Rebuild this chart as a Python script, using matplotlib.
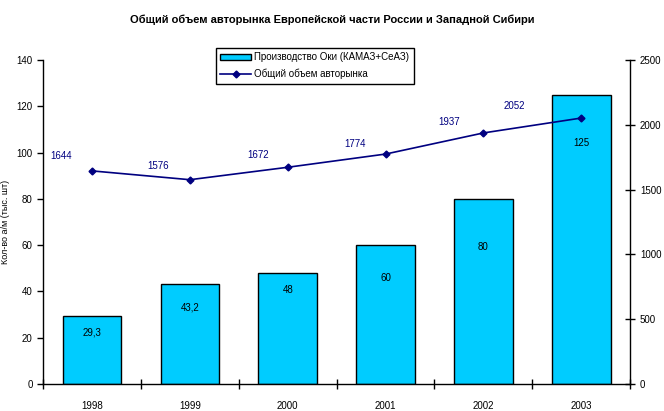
import matplotlib.pyplot as plt
from matplotlib.patches import Patch
from matplotlib.lines import Line2D

plt.rcParams['font.family'] = ['Liberation Sans', 'DejaVu Sans']

# data
years = ['1998', '1999', '2000', '2001', '2002', '2003']
oka_prod = [29.3, 43.2, 48, 60, 80, 125]
oka_labels = ['29,3', '43,2', '48', '60', '80', '125']
market_total = [1644, 1576, 1672, 1774, 1937, 2052]

# label placement offsets (points)
bar_lbl_off = [-12, -17, -12, -24, -35, -35]
line_lbl_off = [(-22, 11), (-23, 10), (-21, 9), (-22, 7), (-25, 8), (-48, 9)]

fig = plt.figure(figsize=(6.64, 4.11), dpi=100)
ax = fig.add_axes([0.065, 0.066, 0.884, 0.788])
ax2 = ax.twinx()

x = range(len(years))
bars = ax.bar(x, oka_prod, width=0.6, color='#00CCFF', edgecolor='black', linewidth=1.0, zorder=2)
for xi, v, lbl, off in zip(x, oka_prod, oka_labels, bar_lbl_off):
    ax.annotate(lbl, (xi, v), xytext=(0, off), textcoords='offset points',
                ha='center', va='center', fontsize=7)

ax2.plot(x, market_total, color='#000080', linewidth=1.2, marker='D', markersize=3.5, zorder=3)
for xi, v, off in zip(x, market_total, line_lbl_off):
    ax2.annotate(str(v), (xi, v), xytext=off, textcoords='offset points',
                 ha='center', va='center', fontsize=7, color='#000080')

ax.set_xlim(-0.5, 5.5)
ax.set_ylim(0, 140)
ax.set_yticks(range(0, 141, 20))
ax2.set_ylim(0, 2500)
ax2.set_yticks(range(0, 2501, 500))

ax.set_xticks(list(x))
ax.set_xticklabels(years, fontsize=7)
ax.set_xticks([i - 0.5 for i in range(len(years) + 1)], minor=True)
ax.tick_params(axis='x', which='major', length=0, pad=12)
ax.tick_params(axis='x', which='minor', direction='inout', length=7, width=1)
ax.tick_params(axis='y', direction='out', length=4, width=1, labelsize=7)
ax2.tick_params(axis='y', direction='inout', length=7, width=1, labelsize=7)

for a in (ax, ax2):
    a.spines['top'].set_visible(False)
    for s in ('left', 'right', 'bottom'):
        a.spines[s].set_linewidth(1.0)
ax2.spines['left'].set_visible(False)
ax2.spines['bottom'].set_visible(False)
ax.spines['right'].set_visible(False)

ax.set_ylabel('Кол-во а/м (тыс. шт)', fontsize=6.5)
ax.yaxis.set_label_coords(-0.056, 0.5)

fig.suptitle('Общий объем авторынка Европейской части России и Западной Сибири',
             fontsize=8, fontweight='bold', y=0.965)

handles = [Patch(facecolor='#00CCFF', edgecolor='black', linewidth=1.0),
           Line2D([0], [0], color='#000080', linewidth=1.2, marker='D', markersize=3.5)]
leg = fig.legend(handles, ['Производство Оки (КАМАЗ+СеАЗ)', 'Общий объем авторынка'],
                 loc='upper left', bbox_to_anchor=(0.325, 0.883), borderaxespad=0,
                 fontsize=7, fancybox=False, framealpha=1, edgecolor='black',
                 handlelength=3.2, handleheight=0.7, handletextpad=0.3,
                 borderpad=0.45, labelspacing=0.65)
leg.get_frame().set_linewidth(1.0)

fig.savefig('out.png', dpi=100)
